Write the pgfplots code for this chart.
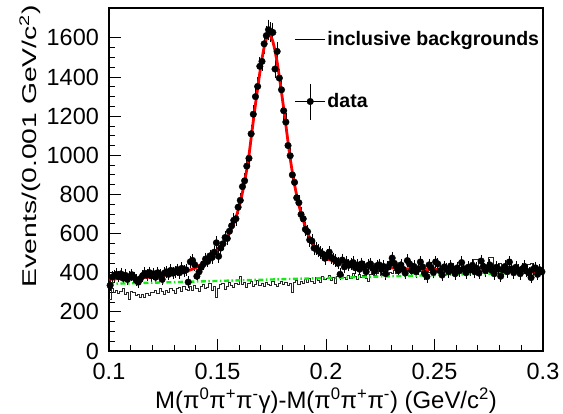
\documentclass[border=0pt]{standalone}
\usepackage{pgfplots}
\usepackage{pgfplotstable}
\usepackage{fontspec}
\setmainfont{Liberation Sans}
\pgfplotsset{compat=1.18}
\definecolor{fitgreen}{RGB}{20,235,20}

\pgfplotstableread{
x y e
0.1005 335 18
0.1015 378 19
0.1025 385 20
0.1035 392 20
0.1045 380 19
0.1055 394 20
0.1065 372 19
0.1075 387 20
0.1085 366 19
0.1095 380 19
0.1105 390 20
0.1115 377 19
0.1125 362 19
0.1135 352 19
0.1145 370 19
0.1155 385 20
0.1165 397 20
0.1175 388 20
0.1185 401 20
0.1195 384 20
0.1205 395 20
0.1215 377 19
0.1225 400 20
0.1235 388 20
0.1245 366 19
0.1255 398 20
0.1265 405 20
0.1275 392 20
0.1285 412 20
0.1295 398 20
0.1305 404 20
0.1315 416 20
0.1325 400 20
0.1335 422 21
0.1345 410 20
0.1355 415 20
0.1365 352 19
0.1375 456 21
0.1385 463 22
0.1395 441 21
0.1405 382 20
0.1415 405 20
0.1425 428 21
0.1435 445 21
0.1445 470 22
0.1455 458 21
0.1465 486 22
0.1475 478 22
0.1485 505 22
0.1495 553 24
0.1505 484 22
0.1515 526 23
0.1525 548 23
0.1535 580 24
0.1545 575 24
0.1555 612 25
0.1565 640 25
0.1575 668 26
0.1585 676 26
0.1595 735 27
0.1605 770 28
0.1615 840 29
0.1625 870 29
0.1635 945 31
0.1645 985 31
0.1655 1110 33
0.1665 1210 35
0.1675 1300 36
0.1685 1352 37
0.1695 1455 38
0.1705 1480 38
0.1715 1570 40
0.1725 1612 40
0.1735 1642 41
0.1745 1632 40
0.1755 1628 40
0.1765 1441 38
0.1775 1531 39
0.1785 1395 37
0.1795 1335 36
0.1805 1228 35
0.1815 1170 34
0.1825 1050 32
0.1835 998 31
0.1845 900 30
0.1855 862 29
0.1865 783 28
0.1875 758 28
0.1885 698 26
0.1895 676 26
0.1905 622 25
0.1915 610 25
0.1925 568 24
0.1935 562 24
0.1945 526 23
0.1955 525 23
0.1965 512 23
0.1975 502 22
0.1985 495 22
0.1995 474 22
0.2005 490 22
0.2015 505 22
0.2025 478 22
0.2035 470 22
0.2045 462 21
0.2055 448 21
0.2065 392 20
0.2075 465 22
0.2085 430 21
0.2095 452 21
0.2105 438 21
0.2115 445 21
0.2125 452 21
0.2135 425 21
0.2145 440 21
0.2155 418 20
0.2165 446 21
0.2175 428 21
0.2185 405 20
0.2195 438 21
0.2205 445 21
0.2215 422 21
0.2225 410 20
0.2235 436 21
0.2245 440 21
0.2255 418 20
0.2265 432 21
0.2275 395 20
0.2285 428 21
0.2295 445 21
0.2305 475 22
0.2315 448 21
0.2325 430 21
0.2335 412 20
0.2345 440 21
0.2355 418 20
0.2365 398 20
0.2375 462 21
0.2385 445 21
0.2395 412 20
0.2405 432 21
0.2415 405 20
0.2425 420 20
0.2435 455 21
0.2445 430 21
0.2455 395 20
0.2465 380 20
0.2475 440 21
0.2485 425 21
0.2495 402 20
0.2505 455 21
0.2515 445 21
0.2525 410 20
0.2535 388 20
0.2545 430 21
0.2555 420 20
0.2565 405 20
0.2575 435 21
0.2585 418 20
0.2595 395 20
0.2605 425 21
0.2615 410 20
0.2625 452 21
0.2635 420 20
0.2645 400 20
0.2655 428 21
0.2665 415 20
0.2675 438 21
0.2685 405 20
0.2695 422 21
0.2705 398 20
0.2715 460 21
0.2725 432 21
0.2735 410 20
0.2745 425 21
0.2755 440 21
0.2765 412 20
0.2775 395 20
0.2785 428 21
0.2795 418 20
0.2805 382 20
0.2815 415 20
0.2825 432 21
0.2835 405 20
0.2845 455 21
0.2855 420 20
0.2865 400 20
0.2875 428 21
0.2885 412 20
0.2895 395 20
0.2905 420 20
0.2915 432 21
0.2925 408 20
0.2935 398 20
0.2945 375 19
0.2955 418 20
0.2965 425 21
0.2975 392 20
0.2985 415 20
0.2995 405 20
}\datatab

\pgfplotstableread{
x h
0.100 262
0.101 320
0.102 298
0.103 310
0.104 292
0.105 305
0.106 322
0.107 288
0.108 300
0.109 266
0.110 305
0.111 298
0.112 283
0.113 290
0.114 275
0.115 288
0.116 272
0.117 292
0.118 286
0.119 298
0.120 300
0.121 310
0.122 295
0.123 318
0.124 305
0.125 290
0.126 312
0.127 300
0.128 322
0.129 308
0.130 296
0.131 318
0.132 325
0.133 305
0.134 330
0.135 315
0.136 308
0.137 328
0.138 312
0.139 335
0.140 320
0.141 305
0.142 332
0.143 340
0.144 318
0.145 326
0.146 345
0.147 312
0.148 330
0.149 272
0.150 322
0.151 338
0.152 345
0.153 316
0.154 330
0.155 350
0.156 335
0.157 325
0.158 348
0.159 338
0.160 382
0.161 340
0.162 352
0.163 325
0.164 345
0.165 358
0.166 330
0.167 340
0.168 362
0.169 335
0.170 345
0.171 328
0.172 352
0.173 340
0.174 335
0.175 355
0.176 342
0.177 330
0.178 348
0.179 358
0.180 340
0.181 352
0.182 335
0.183 345
0.184 298
0.185 350
0.186 362
0.187 340
0.188 355
0.189 345
0.190 368
0.191 350
0.192 372
0.193 358
0.194 345
0.195 375
0.196 362
0.197 352
0.198 380
0.199 365
0.200 370
0.201 388
0.202 362
0.203 378
0.204 345
0.205 382
0.206 370
0.207 392
0.208 375
0.209 368
0.210 385
0.211 372
0.212 395
0.213 380
0.214 365
0.215 390
0.216 378
0.217 388
0.218 370
0.219 355
0.220 392
0.221 400
0.222 385
0.223 398
0.224 405
0.225 388
0.226 395
0.227 410
0.228 390
0.229 402
0.230 398
0.231 410
0.232 395
0.233 405
0.234 415
0.235 400
0.236 392
0.237 412
0.238 405
0.239 398
0.240 410
0.241 402
0.242 418
0.243 405
0.244 395
0.245 412
0.246 420
0.247 400
0.248 408
0.249 415
0.250 405
0.251 418
0.252 410
0.253 398
0.254 415
0.255 422
0.256 408
0.257 412
0.258 400
0.259 418
0.260 410
0.261 425
0.262 415
0.263 405
0.264 420
0.265 412
0.266 430
0.267 418
0.268 470
0.269 468
0.270 420
0.271 412
0.272 450
0.273 418
0.274 425
0.275 478
0.276 476
0.277 415
0.278 428
0.279 420
0.280 448
0.281 425
0.282 418
0.283 432
0.284 420
0.285 410
0.286 428
0.287 418
0.288 412
0.289 425
0.290 415
0.291 420
0.292 410
0.293 445
0.294 448
0.295 418
0.296 412
0.297 420
0.298 408
0.299 405
0.300 405
}\histtab

\pgfplotstableread{
x y
0.1000 367
0.1055 370
0.1105 372
0.1155 375
0.1205 378
0.1255 386
0.1305 394
0.1355 406
0.1395 423
0.1435 449
0.1465 474
0.1495 510
0.1525 552
0.1545 582
0.1565 625
0.1585 681
0.1605 759
0.1615 810
0.1625 864
0.1635 928
0.1645 999
0.1655 1088
0.1665 1176
0.1675 1262
0.1685 1343
0.1695 1422
0.1705 1494
0.1715 1553
0.1725 1595
0.1735 1613
0.1745 1610
0.1755 1583
0.1765 1536
0.1775 1475
0.1785 1402
0.1795 1322
0.1805 1240
0.1815 1155
0.1825 1068
0.1835 985
0.1845 912
0.1855 850
0.1865 795
0.1875 745
0.1885 705
0.1895 668
0.1905 635
0.1915 604
0.1925 577
0.1935 553
0.1945 533
0.1955 517
0.1975 494
0.2005 472
0.2035 458
0.2055 451
0.2105 440
0.2155 433
0.2205 430
0.2305 424
0.2405 419
0.2505 416
0.2605 414
0.2705 412
0.2805 410
0.2905 406
0.3000 403
}\fittab

\begin{document}
\begin{tikzpicture}
\path[use as bounding box] (-109bp,-63bp) rectangle (454bp,351bp);
\begin{axis}[
  at={(0,0)}, anchor=south west,
  scale only axis, width=434bp, height=343bp,
  xmin=0.1, xmax=0.3, ymin=0, ymax=1753,
  xtick={0.1,0.15,0.2,0.25,0.3},
  ytick={0,200,...,1600},
  minor x tick num=4, minor y tick num=3,
  tick align=inside, xtick pos=bottom, ytick pos=left,
  major tick length=12bp, minor tick length=6bp,
  tick style={line width=0.9bp, black},
  axis line style={line width=2.2bp},
  /pgf/number format/1000 sep={},
  /pgf/number format/assume math mode=true,
  tick label style={font=\fontsize{23.5}{27}\selectfont},
  xticklabel style={inner sep=0pt, anchor=north, yshift=-12bp},
  yticklabel style={inner sep=0pt, anchor=east, xshift=-10bp},
  xlabel={M(π\textsuperscript{0}π\textsuperscript{+}π\textsuperscript{-}γ)-M(π\textsuperscript{0}π\textsuperscript{+}π\textsuperscript{-}) (GeV/c\textsuperscript{2})},
  xlabel style={at={(axis description cs:0.5,0)}, anchor=base, yshift=-57bp, font=\fontsize{24}{28}\selectfont, inner sep=0pt},
  ylabel={\scalebox{1.42}[1]{Events/(0.001 GeV/c\textsuperscript{2})}},
  ylabel style={at={(axis description cs:-0.182,1.009)}, anchor=east, font=\fontsize{20}{24}\selectfont, inner sep=0pt},
  legend style={draw=none, fill=none, at={(rel axis cs:0.4276,0.937)}, anchor=north west,
    inner sep=0pt, row sep=34bp, nodes={inner sep=1.8bp},
    font=\fontsize{19.6}{22}\selectfont\bfseries},
  legend cell align=left,
  clip=true,
]
\addlegendimage{legend image code/.code={\draw[black, line width=0.8bp] (0bp,0bp) -- (30bp,0bp);}}
\addlegendentry{inclusive backgrounds}
\addlegendimage{legend image code/.code={\draw[black, line width=0.9bp] (0bp,0bp) -- (30bp,0bp); \draw[black, line width=0.9bp] (15bp,-18bp) -- (15bp,18bp); \fill[black] (15bp,0bp) circle (3.3bp);}}
\addlegendentry{data}

\addplot[forget plot, const plot mark left, black!85, line width=0.8bp] table[x=x, y=h] {\histtab};
\addplot[forget plot, only marks, mark=*, mark size=3.3bp, mark options={fill=black, draw=black},
  error bars/.cd, y dir=both, y explicit, error mark options={mark size=2bp, line width=0.7bp},
  error bar style={line width=0.7bp, black}]
  table[x=x, y=y, y error=e] {\datatab};
\addplot[forget plot, fitgreen, line width=2.4bp, dash pattern=on 5bp off 2.5bp on 1.5bp off 2.5bp] coordinates {(0.1,343) (0.3,403)};
\addplot[forget plot, red, line width=2.8bp] table[x=x, y=y] {\fittab};
\end{axis}
\end{tikzpicture}
\end{document}
